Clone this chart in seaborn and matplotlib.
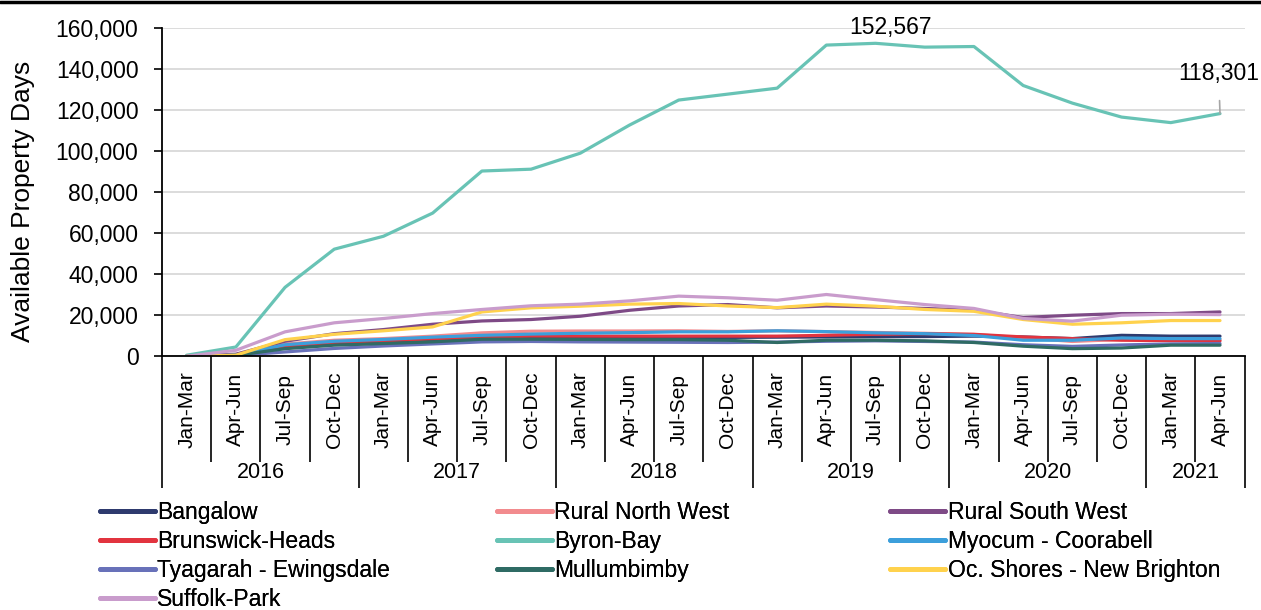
import matplotlib
matplotlib.use("Agg")
import matplotlib.pyplot as plt
import matplotlib.transforms as mtransforms
from matplotlib.lines import Line2D
from matplotlib.ticker import FuncFormatter, FixedLocator
import seaborn as sns
import pandas as pd

# quarters 2016 Jan-Mar .. 2021 Apr-Jun
quarters = ["Jan-Mar", "Apr-Jun", "Jul-Sep", "Oct-Dec"] * 5 + ["Jan-Mar", "Apr-Jun"]
years = ["2016", "2017", "2018", "2019", "2020", "2021"]
year_counts = [4, 4, 4, 4, 4, 2]

bangalow = [0, 600, 4000, 5800, 6500, 7200, 8200, 8700, 8900, 9000, 9100, 9200,
            9300, 9400, 9500, 9600, 9800, 9400, 8600, 10200, 9800, 9800]
rural_nw = [0, 700, 5900, 7800, 8600, 9800, 11400, 12200, 12300, 12300, 12400, 12100,
            12400, 12000, 11600, 11200, 10600, 9000, 7200, 8200, 8200, 8000]
rural_sw = [0, 1000, 7300, 11000, 13000, 15600, 17200, 17900, 19500, 22400, 24500, 25200,
            23600, 24500, 24000, 23300, 22400, 18900, 20000, 20800, 20800, 21600]
brunswick = [0, 500, 5000, 6800, 7500, 8500, 9300, 9800, 9800, 9800, 9800, 9800,
             9800, 10200, 10700, 11000, 10700, 9400, 8600, 7800, 7600, 7500]
byron_bay = [500, 4500, 33600, 52200, 58500, 69800, 90300, 91200, 99000, 112700, 124900, 127800,
             130700, 151700, 152567, 150700, 151000, 132000, 123400, 116600, 113900, 118301]
myocum = [0, 600, 5600, 7300, 8200, 9300, 10200, 10800, 11200, 11500, 11900, 11900,
          12400, 12000, 11400, 11000, 10100, 7800, 7800, 8900, 8600, 8600]
tyagarah = [0, 300, 2100, 3800, 5000, 6000, 7000, 7200, 7000, 6900, 6800, 6700,
            6900, 7300, 7500, 7200, 6900, 5600, 4800, 5500, 6000, 6200]
mullumbimby = [0, 400, 3700, 5400, 6200, 7000, 8300, 8300, 8200, 8100, 8100, 7800,
               6700, 7800, 7800, 7500, 6700, 4900, 3700, 4000, 5400, 5400]
oc_shores = [0, 500, 8100, 10700, 12400, 14300, 21600, 23600, 24400, 25400, 25700, 24500,
             23700, 25400, 24400, 22800, 21900, 17900, 15600, 16300, 17400, 17400]
suffolk = [0, 2900, 11900, 16300, 18400, 20800, 22800, 24600, 25400, 27000, 29300, 28500,
           27300, 30100, 27600, 25200, 23300, 18400, 17100, 20000, 20500, 20300]

series = {
    "Bangalow": (bangalow, "#2E3A6E"),
    "Rural North West": (rural_nw, "#F28B8E"),
    "Rural South West": (rural_sw, "#7E4A86"),
    "Brunswick-Heads": (brunswick, "#E2343F"),
    "Byron-Bay": (byron_bay, "#68C3B5"),
    "Myocum - Coorabell": (myocum, "#3C9FDB"),
    "Tyagarah - Ewingsdale": (tyagarah, "#6871B9"),
    "Mullumbimby": (mullumbimby, "#2F6B64"),
    "Oc. Shores - New Brighton": (oc_shores, "#FFD24D"),
    "Suffolk-Park": (suffolk, "#C99CCC"),
}

rows = []
for name, (vals, _) in series.items():
    for i, v in enumerate(vals):
        rows.append({"idx": i, "value": v, "area": name})
df = pd.DataFrame(rows)
palette = {k: c for k, (_, c) in series.items()}

sns.set_style("white")
plt.rcParams["font.family"] = ["Liberation Sans", "DejaVu Sans"]
plt.rcParams.update({"text.color": "black", "axes.labelcolor": "black",
                     "xtick.color": "black", "ytick.color": "black",
                     "xtick.bottom": True, "ytick.left": True})

fig = plt.figure(figsize=(12.61, 6.10), dpi=100)
ax = fig.add_axes([0.1285, 0.416, 0.8585, 0.538])

sns.lineplot(data=df, x="idx", y="value", hue="area", hue_order=list(series.keys()),
             palette=palette, linewidth=2.3, legend=False, ax=ax)

ax.set_xlim(-0.5, len(quarters) - 0.5)
ax.set_ylim(0, 160000)
ax.set_yticks(range(0, 160001, 20000))
ax.yaxis.set_major_formatter(FuncFormatter(lambda v, p: f"{int(v):,}"))
ax.tick_params(axis="y", labelsize=16.5, length=6, width=1.2, color="black", left=True, pad=11)
ax.grid(axis="y", color="#D9D9D9", linewidth=1.3)
ax.set_axisbelow(True)
ax.set_xlabel("")
ax.set_ylabel("Available Property Days", fontsize=19)
ax.yaxis.set_label_coords(-0.117, 0.473)

for s in ["top", "right"]:
    ax.spines[s].set_visible(False)
ax.spines["left"].set_color("black")
ax.spines["left"].set_linewidth(1.3)
ax.spines["bottom"].set_color("black")
ax.spines["bottom"].set_linewidth(1.3)

# multi-level category axis
bounds_q = [i - 0.5 for i in range(len(quarters) + 1)]
bounds_y = [-0.5]
acc = -0.5
for c in year_counts:
    acc += c
    bounds_y.append(acc)
ax.xaxis.set_major_locator(FixedLocator(bounds_y))
ax.xaxis.set_minor_locator(FixedLocator([b for b in bounds_q if b not in bounds_y]))
ax.tick_params(axis="x", which="major", bottom=True, length=95, width=1.2, color="black",
               labelbottom=False)
ax.tick_params(axis="x", which="minor", bottom=True, length=76, width=1.2, color="black",
               labelbottom=False)

trans = mtransforms.blended_transform_factory(ax.transData, ax.transAxes)
for i, q in enumerate(quarters):
    ax.text(i, -0.162, q, rotation=90, ha="center", va="center", fontsize=15,
            transform=trans)
start = 0
for y, c in zip(years, year_counts):
    ax.text(start + (c - 1) / 2, -0.354, y, ha="center", va="center", fontsize=15.5,
            transform=trans)
    start += c

# data labels
ax.annotate(f"{byron_bay[14]:,}", xy=(14, byron_bay[14]), xytext=(11, 3),
            textcoords="offset points", ha="center", va="bottom", fontsize=16.5,
            annotation_clip=False)
ax.annotate(f"{byron_bay[21]:,}", xy=(21, byron_bay[21]), xytext=(-1, 29),
            textcoords="offset points", ha="center", va="center", fontsize=16.5,
            annotation_clip=False,
            arrowprops=dict(arrowstyle="-", color="#A6A6A6", lw=1.2, shrinkA=9, shrinkB=0))

# legend: three fixed-width columns, filled row by row like Excel
columns = [
    ["Bangalow", "Brunswick-Heads", "Tyagarah - Ewingsdale", "Suffolk-Park"],
    ["Rural North West", "Byron-Bay", "Mullumbimby"],
    ["Rural South West", "Myocum - Coorabell", "Oc. Shores - New Brighton"],
]
col_x = [0.0793, 0.394, 0.706]
for names, x0 in zip(columns, col_x):
    handles = [Line2D([0], [0], color=palette[n], lw=3.5) for n in names]
    leg = fig.legend(handles, names, loc="upper left", bbox_to_anchor=(x0, 0.178),
                     frameon=False, fontsize=16.5, handlelength=2.4, handletextpad=0.1,
                     labelspacing=0.25, borderaxespad=0, borderpad=0)
    fig.add_artist(leg)

fig.add_artist(Line2D([0, 1], [0.997, 0.997], color="black", lw=2.5,
                      transform=fig.transFigure))

fig.savefig("out.png", dpi=100)
